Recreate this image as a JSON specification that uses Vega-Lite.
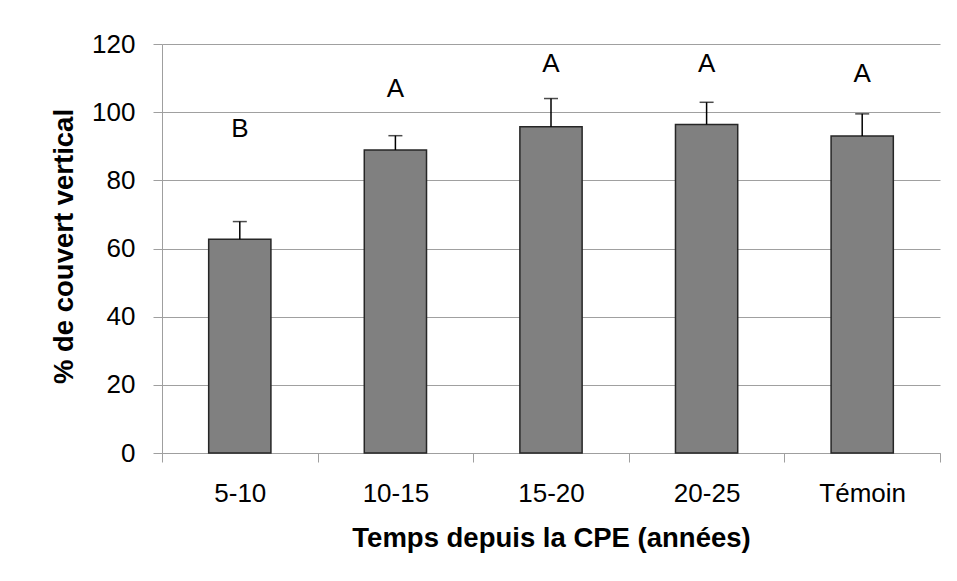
{
  "$schema": "https://vega.github.io/schema/vega-lite/v6.json",
  "width": 778,
  "height": 409,
  "autosize": {"type": "none"},
  "padding": {"left": 162, "top": 44, "right": 17, "bottom": 128},
  "background": "white",
  "config": {"view": {"stroke": null}, "font": "Liberation Sans"},
  "data": {
    "values": [
      {"cat": "5-10", "mean": 62.7, "err": 67.9, "letter": "B", "ly": 95.0},
      {"cat": "10-15", "mean": 88.9, "err": 93.1, "letter": "A", "ly": 106.7},
      {"cat": "15-20", "mean": 95.7, "err": 104.0, "letter": "A", "ly": 114.2},
      {"cat": "20-25", "mean": 96.4, "err": 102.9, "letter": "A", "ly": 114.1},
      {"cat": "Témoin", "mean": 93.0, "err": 99.5, "letter": "A", "ly": 111.3}
    ]
  },
  "encoding": {
    "x": {
      "field": "cat",
      "type": "nominal",
      "sort": null,
      "scale": {"paddingInner": 0, "paddingOuter": 0},
      "axis": {
        "title": "Temps depuis la CPE (années)",
        "labelAngle": 0,
        "labelFontSize": 26,
        "labelColor": "black",
        "labelPadding": 18,
        "tickBand": "extent",
        "tickSize": 9,
        "tickColor": "#9f9f9f",
        "domainColor": "#9f9f9f",
        "domainWidth": 1,
        "grid": false,
        "titleFontSize": 27.5,
        "titleFontWeight": "bold",
        "titleColor": "black",
        "titleBaseline": "alphabetic",
        "titleY": 93
      }
    }
  },
  "layer": [
    {
      "mark": {"type": "bar", "fill": "#808080", "stroke": "#262626", "strokeWidth": 1.5, "width": {"band": 0.4}},
      "encoding": {
        "y": {
          "field": "mean",
          "type": "quantitative",
          "scale": {"domain": [0, 120], "nice": false},
          "axis": {
            "title": "% de couvert vertical",
            "values": [0, 20, 40, 60, 80, 100, 120],
            "labelFontSize": 26,
            "labelColor": "black",
            "labelPadding": 18,
            "tickSize": 9,
            "tickColor": "#9f9f9f",
            "domainColor": "#9f9f9f",
            "gridColor": "#a0a0a0",
            "gridWidth": 1,
            "titleFontSize": 27.5,
            "titleFontWeight": "bold",
            "titleColor": "black",
            "titleAngle": -90,
            "titleBaseline": "alphabetic",
            "titleX": -90,
            "titleY": 202
          }
        }
      }
    },
    {
      "mark": {"type": "rule", "color": "black", "strokeWidth": 1.5},
      "encoding": {
        "y": {"field": "mean", "type": "quantitative"},
        "y2": {"field": "err"}
      }
    },
    {
      "mark": {"type": "tick", "orient": "horizontal", "color": "black", "size": 14, "thickness": 1.5},
      "encoding": {
        "y": {"field": "err", "type": "quantitative"}
      }
    },
    {
      "mark": {"type": "text", "fontSize": 26, "baseline": "middle", "color": "black"},
      "encoding": {
        "y": {"field": "ly", "type": "quantitative"},
        "text": {"field": "letter"}
      }
    }
  ]
}
